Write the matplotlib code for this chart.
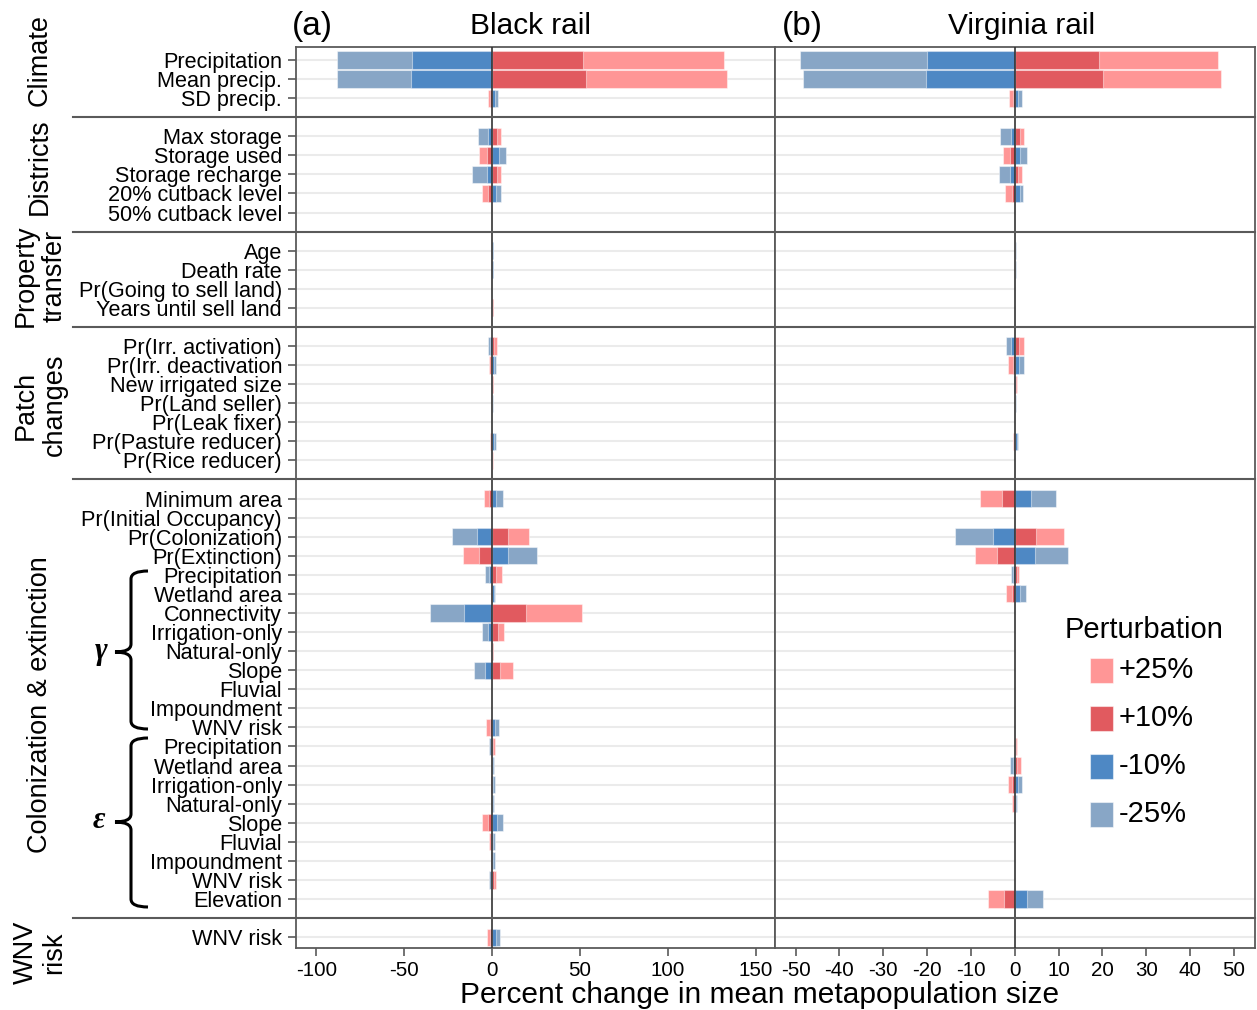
import matplotlib
matplotlib.use("Agg")
import matplotlib.pyplot as plt
from matplotlib.patches import Rectangle, PathPatch
from matplotlib.path import Path
from matplotlib.lines import Line2D
from matplotlib.transforms import blended_transform_factory
import numpy as np

plt.rcParams['font.family'] = ['Liberation Sans', 'DejaVu Sans']

# ---------------- data ----------------
group_names = ["Climate", "Districts", "Property\ntransfer", "Patch\nchanges",
               "Colonization & extinction", "WNV\nrisk"]

climate_rows = ["Precipitation", "Mean precip.", "SD precip."]
district_rows = ["Max storage", "Storage used", "Storage recharge",
                 "20% cutback level", "50% cutback level"]
property_rows = ["Age", "Death rate", "Pr(Going to sell land)", "Years until sell land"]
patch_rows = ["Pr(Irr. activation)", "Pr(Irr. deactivation", "New irrigated size",
              "Pr(Land seller)", "Pr(Leak fixer)", "Pr(Pasture reducer)", "Pr(Rice reducer)"]
colext_rows = ["Minimum area", "Pr(Initial Occupancy)", "Pr(Colonization)", "Pr(Extinction)",
               # gamma (colonization) covariates
               "Precipitation", "Wetland area", "Connectivity", "Irrigation-only",
               "Natural-only", "Slope", "Fluvial", "Impoundment", "WNV risk",
               # epsilon (extinction) covariates
               "Precipitation", "Wetland area", "Irrigation-only", "Natural-only",
               "Slope", "Fluvial", "Impoundment", "WNV risk", "Elevation"]
wnv_rows = ["WNV risk"]
groups = [climate_rows, district_rows, property_rows, patch_rows, colext_rows, wnv_rows]

perturbations = ["+25%", "+10%", "-10%", "-25%"]

# Black rail: percent change in mean metapopulation size
black_p25 = [132.0, 133.5, -2.5,
             5.3, -7.4, 5.1, -5.5, 0.0,
             0.0, 0.0, 0.0, 0.6,
             2.7, -1.5, 0.6, 0.0, 0.0, -1.1, 0.4,
             -4.3, 0.0, 21.1, -16.7,
             5.7, -0.3, 51.1, 6.8, 0.8, 12.0, 0.0, 0.0, -3.4,
             1.9, 0.0, -0.8, 0.0, -5.5, -1.5, -0.3, 2.1, 0.0,
             -3.0]
black_p10 = [51.5, 53.5, -1.0,
             2.8, -3.0, 2.8, -2.3, 0.0,
             0.0, 0.0, 0.0, 0.3,
             1.2, -0.6, 0.3, 0.0, 0.0, -0.4, 0.2,
             -1.5, 0.0, 8.9, -7.6,
             2.3, -0.1, 19.4, 3.2, 0.3, 4.8, 0.0, 0.0, -1.2,
             0.8, 0.0, -0.3, 0.0, -2.3, -0.6, -0.1, 0.9, 0.0,
             -1.2]
black_m10 = [-45.5, -46.0, 1.5,
             -2.5, 4.0, -3.0, 2.3, 0.0,
             0.3, 0.3, 0.0, 0.0,
             -1.0, 1.0, 0.0, 0.2, 0.0, 1.0, 0.0,
             2.3, 0.0, -8.7, 9.3,
             -1.7, 1.0, -15.9, -2.5, 0.0, -4.2, 0.0, 0.0, 1.5,
             -0.6, 0.5, 0.8, 0.6, 2.8, 0.8, 0.8, -0.8, 0.0,
             2.0]
black_m25 = [-88.0, -88.3, 3.2,
             -8.2, 8.0, -11.2, 5.1, 0.0,
             0.6, 0.6, 0.0, 0.0,
             -2.1, 2.3, 0.0, 0.4, 0.0, 2.3, 0.0,
             6.5, 0.0, -23.0, 25.6,
             -4.0, 1.9, -35.1, -5.9, 0.0, -10.4, 0.0, 0.0, 4.2,
             -1.5, 1.1, 1.9, 1.3, 6.3, 1.9, 1.7, -1.9, 0.0,
             4.8]

# Virginia rail: percent change in mean metapopulation size
virginia_p25 = [46.3, 47.0, -1.3,
                2.1, -2.7, 1.7, -2.2, 0.0,
                0.0, 0.0, 0.0, 0.0,
                2.0, -1.45, 0.5, 0.0, 0.0, -0.4, 0.0,
                -7.9, 0.0, 11.2, -9.1,
                1.0, -2.1, 0.0, 0.0, 0.0, 0.0, 0.0, 0.0, 0.0,
                0.5, 1.5, -1.5, -0.6, 0.0, 0.0, 0.0, 0.0, -6.0,
                0.0]
virginia_p10 = [19.3, 20.2, -0.5,
                1.1, -1.0, 0.8, -0.6, 0.0,
                0.0, 0.0, 0.0, 0.0,
                0.9, -0.5, 0.2, 0.0, 0.0, -0.2, 0.0,
                -3.0, 0.0, 4.8, -4.0,
                0.4, -0.7, 0.0, 0.0, 0.0, 0.0, 0.0, 0.0, 0.0,
                0.2, 0.6, -0.6, -0.2, 0.0, 0.0, 0.0, 0.0, -2.4,
                0.0]
virginia_m10 = [-20.1, -20.3, 0.8,
                -0.9, 1.3, -1.0, 1.1, 0.0,
                0.1, 0.1, 0.0, 0.0,
                -0.8, 1.0, -0.1, 0.1, 0.0, 0.4, 0.0,
                3.8, 0.0, -5.0, 4.6,
                -0.3, 1.1, 0.0, 0.0, 0.0, 0.0, 0.0, 0.0, 0.0,
                0.0, -0.4, 0.8, 0.3, 0.0, 0.0, 0.0, 0.0, 2.7,
                0.0]
virginia_m25 = [-48.9, -48.3, 1.7,
                -3.4, 2.7, -3.6, 1.8, 0.0,
                0.3, 0.3, 0.0, 0.0,
                -2.0, 2.2, -0.2, 0.2, 0.0, 0.76, 0.0,
                9.4, 0.0, -13.7, 12.2,
                -0.8, 2.6, 0.0, 0.0, 0.0, 0.0, 0.0, 0.0, 0.0,
                0.0, -1.1, 1.7, 0.6, 0.0, 0.0, 0.0, 0.0, 6.4,
                0.0]

species = ["Black rail", "Virginia rail"]
panel_tags = ["(a)", "(b)"]
left_ticks = [-100, -50, 0, 50, 100, 150]
right_ticks = [-50, -40, -30, -20, -10, 0, 10, 20, 30, 40, 50]

# ---------------- layout helpers ----------------
W, H = 1257, 1010
colors = {"+25%": "#FF9696", "+10%": "#E15A5F", "-10%": "#4E88C4", "-25%": "#88A6C6"}

labels, ypos, separators = [], [], []
slot = 0
for gi, rows in enumerate(groups):
    for r in rows:
        labels.append(r)
        ypos.append(slot)
        slot += 1
    if gi < len(groups) - 1:
        separators.append(slot)
        slot += 1
ypos = np.array(ypos, dtype=float)
ylims = (46.57, -0.68)


def px(x, y):
    """Pixel position (origin top-left) -> figure fraction."""
    return (x / W, 1 - y / H)


fig = plt.figure(figsize=(W / 100, H / 100), dpi=100)
axL = fig.add_axes([296 / W, 1 - 948 / H, 479 / W, 901 / H])
axR = fig.add_axes([775 / W, 1 - 948 / H, 480 / W, 901 / H])

panels = [
    (axL, {"+25%": black_p25, "+10%": black_p10, "-10%": black_m10, "-25%": black_m25},
     (-111.5, 161.0), left_ticks),
    (axR, {"+25%": virginia_p25, "+10%": virginia_p10, "-10%": virginia_m10, "-25%": virginia_m25},
     (-54.7, 54.8), right_ticks),
]

frame_col = "#5a5a5a"
grid_col = "#ebebeb"
for k, (ax, vals, xl, ticks) in enumerate(panels):
    ax.set_xlim(*xl)
    ax.set_ylim(*ylims)
    # row guide lines
    for i, y in enumerate(ypos):
        if k == 1 and i < len(ypos) - 2:
            ax.plot([xl[0], 0], [y, y], color=grid_col, lw=1.5, zorder=0)
        else:
            ax.axhline(y, color=grid_col, lw=1.5, zorder=0)
    # larger perturbations behind, smaller ones in front
    for p in ["+25%", "-25%", "+10%", "-10%"]:
        ax.barh(ypos, vals[p], height=0.9, color=colors[p],
                edgecolor=(1, 1, 1, 0.45), linewidth=0.8, zorder=2)
    ax.axvline(0, color="#333333", lw=1.2, zorder=4)
    ax.set_xticks(ticks)
    ax.set_xticklabels([str(t) for t in ticks], fontsize=14.8)
    ax.tick_params(axis="x", direction="out", length=6, width=1.2, color=frame_col, pad=3)
    for s in ax.spines.values():
        s.set_color(frame_col)
        s.set_linewidth(1.3)

axL.set_yticks(ypos)
axL.set_yticklabels(labels, fontsize=15.6)
axL.tick_params(axis="y", direction="out", length=6, width=1.2, color=frame_col, pad=4)
axR.set_yticks([])

# panel titles
fig.text(*px(530, 26), species[0], fontsize=21.5, ha="center", va="center")
fig.text(*px(1022, 26), species[1], fontsize=21.5, ha="center", va="center")
fig.text(*px(312, 26), panel_tags[0], fontsize=24, ha="center", va="center")
fig.text(*px(802, 26), panel_tags[1], fontsize=24, ha="center", va="center")
fig.text(*px(760, 995), "Percent change in mean metapopulation size",
         fontsize=21.5, ha="center", va="center")

# group separators spanning labels and both panels
sep_tr = blended_transform_factory(fig.transFigure, axL.transData)
for s in separators:
    fig.add_artist(Line2D([73 / W, 1255 / W], [s, s], transform=sep_tr,
                          color=frame_col, lw=1.5, zorder=5))

# group titles (rotated)
group_y = [0.0, 5.6, 11.3, 18.1, 33.8, 46.8]
for name, gy in zip(group_names, group_y):
    fig.text(40 / W, gy, name, transform=sep_tr, rotation=90, ha="center", va="center",
             fontsize=19.5, linespacing=1.15, multialignment="center")


# curly braces for the gamma / epsilon covariate blocks
def brace(y0, y1, ym, xl=131, xe=148, xt=115, r=8):
    verts = [px(xe, y0), px(xl, y0), px(xl, y0 + r),
             px(xl, ym - r), px(xl, ym), px(xt, ym),
             px(xl, ym), px(xl, ym + r),
             px(xl, y1 - r), px(xl, y1), px(xe, y1)]
    codes = [Path.MOVETO, Path.CURVE3, Path.CURVE3,
             Path.LINETO, Path.CURVE3, Path.CURVE3,
             Path.CURVE3, Path.CURVE3,
             Path.LINETO, Path.CURVE3, Path.CURVE3]
    fig.add_artist(PathPatch(Path(verts, codes), transform=fig.transFigure,
                             fill=False, lw=2.2, color="black", capstyle="butt"))


brace(571, 729, 652)
brace(738, 907, 822)
fig.text(*px(101, 652), "γ", family=["Liberation Serif", "DejaVu Serif"], style="italic",
         weight="bold", fontsize=22, ha="center", va="center")
fig.text(*px(99, 820), "ε", family=["Liberation Serif", "DejaVu Serif"], style="italic",
         weight="bold", fontsize=22, ha="center", va="center")

# legend
fig.text(*px(1065, 630), "Perturbation", fontsize=21, ha="left", va="center")
for j, p in enumerate(perturbations):
    yc = 670 + 48 * j
    fig.add_artist(Rectangle(px(1090, yc + 12.5), 23 / W, 25 / H, transform=fig.transFigure,
                             facecolor=colors[p], edgecolor=(1, 1, 1, 0.5), lw=0.8))
    fig.text(*px(1119, yc), p, fontsize=21, ha="left", va="center")

fig.savefig("out.png", dpi=100)
